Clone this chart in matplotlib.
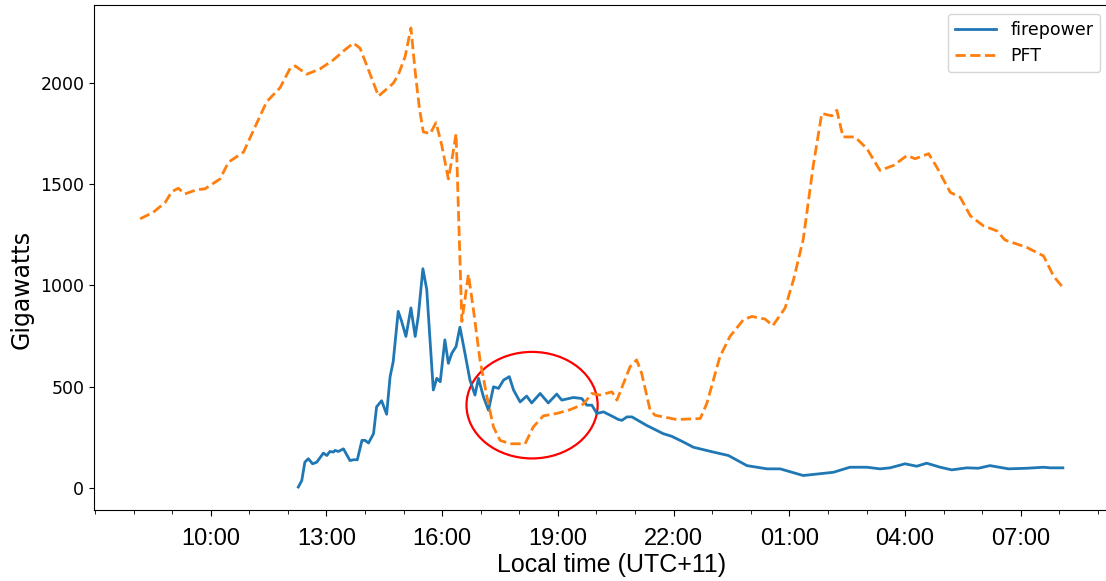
# Firepower vs PFT over one day (local time)

import pandas as pd
import matplotlib
matplotlib.use('Agg')
import matplotlib.pyplot as plt
import matplotlib.dates as mdates
from matplotlib.patches import Ellipse

day0 = pd.Timestamp('2019-12-30')

# hours since midnight of day0
pft_hours = [8.17, 8.51, 8.82, 8.99, 9.16, 9.33, 9.64, 9.85, 10.24, 10.46, 10.85, 11.15,
             11.45, 11.80, 12.06, 12.19, 12.49, 12.83, 13.18, 13.48, 13.70, 13.87, 14.04,
             14.35, 14.73, 14.86, 15.04, 15.19, 15.30, 15.41, 15.51, 15.69, 15.84, 15.99,
             16.16, 16.27, 16.36, 16.51, 16.68, 16.81, 16.98, 17.16, 17.33, 17.50, 17.76,
             18.15, 18.36, 18.62, 18.97, 19.32, 19.66, 19.88, 20.09, 20.40, 20.53, 20.87,
             21.04, 21.17, 21.39, 21.52, 22.08, 22.69, 22.86, 23.20, 23.46, 23.81, 24.03,
             24.37, 24.57, 24.89, 25.11, 25.36, 25.62, 25.84, 26.10, 26.23, 26.39, 26.70,
             27.01, 27.35, 27.70, 28.05, 28.26, 28.61, 28.82, 29.17, 29.43, 29.69, 30.03,
             30.38, 30.59, 31.16, 31.59, 31.85, 32.06]
pft_gw = [1330, 1362, 1411, 1464, 1481, 1453, 1474, 1478, 1527, 1610, 1660, 1785,
          1909, 1979, 2075, 2086, 2045, 2071, 2116, 2166, 2199, 2174, 2091,
          1937, 2000, 2041, 2133, 2274, 2058, 1876, 1760, 1751, 1806, 1693,
          1527, 1643, 1751, 822, 1055, 880, 632, 449, 300, 234, 217,
          217, 300, 355, 367, 386, 413, 466, 458, 474, 433, 598,
          632, 566, 383, 358, 337, 342, 416, 648, 748, 831, 847,
          834, 801, 889, 1030, 1229, 1594, 1851, 1839, 1867, 1735, 1735,
          1677, 1569, 1594, 1643, 1627, 1652, 1586, 1461, 1436, 1345, 1295,
          1270, 1225, 1188, 1146, 1046, 997]

fire_hours = [12.27, 12.36, 12.44, 12.53, 12.64, 12.75, 12.92, 13.01, 13.09, 13.18, 13.22,
              13.31, 13.44, 13.61, 13.70, 13.80, 13.92, 14.00, 14.09, 14.22, 14.30, 14.43,
              14.56, 14.65, 14.73, 14.86, 14.95, 15.06, 15.19, 15.30, 15.38, 15.50, 15.60,
              15.69, 15.77, 15.86, 15.95, 16.07, 16.16, 16.25, 16.36, 16.46, 16.59, 16.72,
              16.85, 16.94, 17.07, 17.20, 17.33, 17.46, 17.59, 17.67, 17.74, 17.85, 18.02,
              18.19, 18.32, 18.54, 18.75, 18.97, 19.10, 19.40, 19.62, 19.75, 19.88, 20.01,
              20.18, 20.44, 20.57, 20.66, 20.79, 20.92, 21.30, 21.73, 21.95, 22.25, 22.51,
              23.03, 23.42, 23.90, 24.42, 24.76, 25.36, 26.14, 26.57, 27.01, 27.35, 27.61,
              28.00, 28.30, 28.56, 28.91, 29.21, 29.60, 29.90, 30.20, 30.68, 31.16, 31.59,
              31.76, 32.09]
fire_gw = [3, 35, 126, 143, 118, 126, 171, 159, 179, 176, 184,
           179, 192, 134, 138, 138, 234, 234, 221, 267, 400, 430,
           363, 549, 623, 872, 822, 748, 889, 748, 847, 1083, 980,
           715, 483, 541, 524, 731, 615, 665, 698, 794, 665, 532,
           458, 541, 449, 383, 499, 491, 532, 541, 549, 483, 424,
           453, 419, 466, 419, 463, 433, 446, 441, 408, 408, 367,
           375, 350, 337, 333, 350, 350, 308, 267, 254, 226, 200,
           176, 159, 109, 93, 93, 60, 76, 101, 101, 93, 98,
           118, 106, 121, 101, 88, 98, 96, 109, 93, 96, 101,
           98, 98]

# red circle highlighting the crossover
circle_hour = 18.33
circle_gw = 408
circle_w_hours = 3.4
circle_h_gw = 527

pft_t = day0 + pd.to_timedelta(pft_hours, unit='h')
fire_t = day0 + pd.to_timedelta(fire_hours, unit='h')

fig = plt.figure(figsize=(11.06, 5.81), dpi=100)
ax = fig.add_axes([94/1106, 71/581, 1015/1106, 505/581])

ax.plot(fire_t, fire_gw, color='#1f77b4', lw=2, label='firepower')
ax.plot(pft_t, pft_gw, color='#ff7f0e', lw=2, ls='--', label='PFT')

centre = mdates.date2num(day0 + pd.Timedelta(hours=circle_hour))
ax.add_patch(Ellipse((centre, circle_gw), width=circle_w_hours/24, height=circle_h_gw,
                     fill=False, edgecolor='red', lw=1.6))

# major ticks every 3 hours from 10:00 to 07:00 next day, minor every hour
ax.set_xticks(pd.date_range(day0 + pd.Timedelta(hours=10), day0 + pd.Timedelta(hours=31), freq='3h'))
ax.xaxis.set_minor_locator(mdates.HourLocator())
ax.xaxis.set_major_formatter(mdates.DateFormatter('%H:%M'))
ax.tick_params(axis='x', which='major', length=4.3, pad=8.5)
ax.tick_params(axis='x', which='minor', length=3)
for lab in ax.get_xticklabels():
    lab.set_fontfamily('Liberation Sans')
    lab.set_fontsize(17)
ax.tick_params(axis='y', labelsize=12.5)

ax.set_xlabel('Local time (UTC+11)', fontsize=18, family='Liberation Sans')
ax.xaxis.set_label_coords((612-94)/1015, -0.085)
ax.set_ylabel('Gigawatts', fontsize=17)
ax.yaxis.set_label_coords(-0.059, 0.436)

ax.legend(loc='upper right', fontsize=12.5, handlelength=2.4)

plt.savefig('out.png', dpi=100)
